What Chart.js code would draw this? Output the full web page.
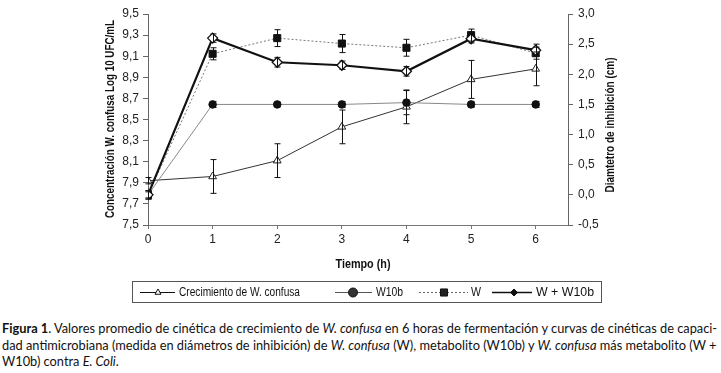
<!DOCTYPE html>
<html>
<head>
<meta charset="utf-8">
<script src="https://cdn.jsdelivr.net/npm/chart.js@4"></script>
<style>
  body { margin: 0; background: #fff; width: 721px; height: 373px; overflow: hidden; position: relative; }
  #wrap { position: absolute; left: 0; top: 0; width: 721px; height: 310px; }
  #caption { position: absolute; left: 2px; top: 320px; font-family: Lato, "Open Sans", sans-serif; font-size: 12.8px; line-height: 16.5px; color: #111; white-space: nowrap; }
</style>
</head>
<body>
<div id="wrap"><canvas id="chart" width="721" height="310"></canvas></div>
<div id="caption">
  <b>Figura 1</b>. Valores promedio de cinética de crecimiento de <i>W. confusa</i> en 6 horas de fermentación y curvas de cinéticas de capaci-<br>
  dad antimicrobiana (medida en diámetros de inhibición) de <i>W. confusa</i> (W), metabolito (W10b) y <i>W. confusa</i> más metabolito (W +<br>
  W10b) contra <i>E. Coli</i>.
</div>
<script>
const hours = [0, 1, 2, 3, 4, 5, 6];
const leftTicks = [7.5, 7.7, 7.9, 8.1, 8.3, 8.5, 8.7, 8.9, 9.1, 9.3, 9.5];
const rightTicks = [-0.5, 0, 0.5, 1.0, 1.5, 2.0, 2.5, 3.0];

// Crecimiento de W. confusa (log UFC/mL, left axis)
const growth = [7.92, 7.96, 8.11, 8.43, 8.62, 8.88, 8.98];
const growthErr = [0.03, 0.16, 0.16, 0.16, 0.16, 0.18, 0.16];
// inhibition diameters (cm, right axis)
const w10b = [0.0, 1.5, 1.5, 1.5, 1.53, 1.5, 1.5];
const w10bErr = [0.05, 0.05, 0.04, 0.05, 0.2, 0.05, 0.05];
const wOnly = [0.0, 2.34, 2.6, 2.51, 2.44, 2.65, 2.35];
const wOnlyErr = [0.07, 0.1, 0.14, 0.15, 0.14, 0.1, 0.1];
const wMix = [0.0, 2.6, 2.2, 2.15, 2.05, 2.59, 2.4];
const wMixErr = [0.07, 0.07, 0.08, 0.07, 0.08, 0.07, 0.1];

const FAMILY = '"Liberation Sans", Arial, sans-serif';
const axisFont = { family: FAMILY, size: 12 };
const comma = (v) => v.toFixed(1).replace('.', ',');

const pts = (ys) => hours.map((x, i) => ({ x, y: ys[i] }));

// squeeze text horizontally to a given width (the original uses a narrow face)
function drawFit(ctx, text, cx, cy, width, angle) {
  ctx.save();
  ctx.translate(cx, cy);
  ctx.rotate(angle || 0);
  const w = ctx.measureText(text).width;
  ctx.scale(width / w, 1);
  ctx.textAlign = 'center';
  ctx.textBaseline = 'middle';
  ctx.fillText(text, 0, 0);
  ctx.restore();
}

const errorBars = {
  id: 'errorBars',
  afterDatasetsDraw(chart) {
    const ctx = chart.ctx;
    ctx.save();
    ctx.strokeStyle = '#111';
    ctx.lineWidth = 1;
    chart.data.datasets.forEach((ds) => {
      const ys = chart.scales[ds.yAxisID];
      const xs = chart.scales.x;
      ds.data.forEach((p, i) => {
        const e = ds.err[i];
        const px = Math.round(xs.getPixelForValue(p.x)) + 0.5;
        const top = ys.getPixelForValue(p.y + e);
        const bot = ys.getPixelForValue(p.y - e);
        ctx.beginPath();
        ctx.moveTo(px, top); ctx.lineTo(px, bot);
        ctx.moveTo(px - 3, top); ctx.lineTo(px + 3, top);
        ctx.moveTo(px - 3, bot); ctx.lineTo(px + 3, bot);
        ctx.stroke();
      });
    });
    ctx.restore();
  }
};

// legend samples, as drawn in the original key
const legendItems = [
  { x1: 140, x2: 175, mx: 158, tx: 179, tw: 121, text: 'Crecimiento de W. confusa', line: '#111', lw: 1, dash: [], style: 'triangle', r: 3.5, fill: '#fff' },
  { x1: 335, x2: 372, mx: 353, tx: 376, tw: 27, text: 'W10b', line: '#555', lw: 1, dash: [], style: 'circle', r: 4.5, fill: '#333' },
  { x1: 419, x2: 468, mx: 444, tx: 471, tw: 10, text: 'W', line: '#666', lw: 1, dash: [2, 2], style: 'rect', r: 5, fill: '#222' },
  { x1: 492, x2: 532, mx: 514, tx: 536, tw: 58, text: 'W + W10b', line: '#111', lw: 1.5, dash: [], style: 'rectRot', r: 3.5, fill: '#111' },
];

const titlesAndLegend = {
  id: 'titlesAndLegend',
  afterDraw(chart) {
    const ctx = chart.ctx;
    ctx.save();
    ctx.fillStyle = '#111';
    ctx.font = 'bold 12px ' + FAMILY;
    drawFit(ctx, 'Concentración W. confusa Log 10 UFC/mL', 111, 119, 198, -Math.PI / 2);
    drawFit(ctx, 'Diamtetro de inhibición (cm)', 611, 125, 135, -Math.PI / 2);
    drawFit(ctx, 'Tiempo (h)', 363, 265, 55, 0);

    ctx.strokeStyle = '#555';
    ctx.lineWidth = 1;
    ctx.strokeRect(132.5, 281.5, 469, 21);
    const y = 292;
    ctx.font = '12px ' + FAMILY;
    legendItems.forEach((it) => {
      ctx.beginPath();
      ctx.strokeStyle = it.line;
      ctx.lineWidth = it.lw;
      ctx.setLineDash(it.dash);
      ctx.moveTo(it.x1, y + 0.5); ctx.lineTo(it.x2, y + 0.5);
      ctx.stroke();
      ctx.setLineDash([]);
      ctx.fillStyle = it.fill;
      ctx.strokeStyle = '#111';
      ctx.lineWidth = 1;
      Chart.helpers.drawPoint(ctx, { pointStyle: it.style, radius: it.r, rotation: 0, borderWidth: 1 }, it.mx, y + 0.5);
      ctx.fillStyle = '#111';
      drawFit(ctx, it.text, it.tx + it.tw / 2, y + 0.5, it.tw, 0);
    });
    ctx.restore();
  }
};

new Chart(document.getElementById('chart'), {
  type: 'line',
  data: {
    datasets: [
      {
        label: 'Crecimiento de W. confusa', data: pts(growth), err: growthErr, yAxisID: 'y',
        borderColor: '#333', borderWidth: 1, pointStyle: 'triangle', pointRadius: 4.5,
        pointBackgroundColor: '#fff', pointBorderColor: '#222', pointBorderWidth: 1, order: 4,
      },
      {
        label: 'W10b', data: pts(w10b), err: w10bErr, yAxisID: 'y1',
        borderColor: '#888', borderWidth: 1, pointStyle: 'circle', pointRadius: 3.8,
        pointBackgroundColor: '#111', pointBorderColor: '#111', pointBorderWidth: 1, order: 3,
      },
      {
        label: 'W', data: pts(wOnly), err: wOnlyErr, yAxisID: 'y1',
        borderColor: '#777', borderWidth: 1, borderDash: [2, 2], pointStyle: 'rect', pointRadius: 5,
        pointBackgroundColor: '#111', pointBorderColor: '#111', pointBorderWidth: 1, order: 2,
      },
      {
        label: 'W + W10b', data: pts(wMix), err: wMixErr, yAxisID: 'y1',
        borderColor: '#111', borderWidth: 2.2, pointStyle: 'rectRot', pointRadius: 5,
        pointBackgroundColor: '#fff', pointBorderColor: '#111', pointBorderWidth: 1.3, order: 1,
      },
    ]
  },
  options: {
    responsive: false,
    animation: false,
    layout: { padding: { top: 14, left: 0, right: 0, bottom: 0 } },
    plugins: { legend: { display: false }, tooltip: { enabled: false } },
    scales: {
      x: {
        type: 'linear', min: 0, max: 6.5,
        afterBuildTicks: (s) => { s.ticks = hours.map((v) => ({ value: v })); },
        afterFit: (s) => { s.height = 85; },
        border: { color: '#777' },
        grid: { drawOnChartArea: false, drawTicks: true, tickLength: 4, color: '#777' },
        ticks: { color: '#222', font: axisFont, padding: 3, maxRotation: 0 },
      },
      y: {
        position: 'left', min: 7.5, max: 9.5,
        afterBuildTicks: (s) => { s.ticks = leftTicks.map((v) => ({ value: v })); },
        afterFit: (s) => { s.width = 148; },
        border: { color: '#666' },
        grid: { drawOnChartArea: false, drawTicks: true, tickLength: 5, color: '#666' },
        ticks: { color: '#222', font: axisFont, padding: 4, callback: comma },
      },
      y1: {
        position: 'right', min: -0.5, max: 3.0,
        afterBuildTicks: (s) => { s.ticks = rightTicks.map((v) => ({ value: v })); },
        afterFit: (s) => { s.width = 153; },
        border: { color: '#666' },
        grid: { drawOnChartArea: false, drawTicks: true, tickLength: 5, color: '#666' },
        ticks: { color: '#222', font: axisFont, padding: 5, callback: comma },
      },
    }
  },
  plugins: [errorBars, titlesAndLegend]
});
</script>
</body>
</html>
